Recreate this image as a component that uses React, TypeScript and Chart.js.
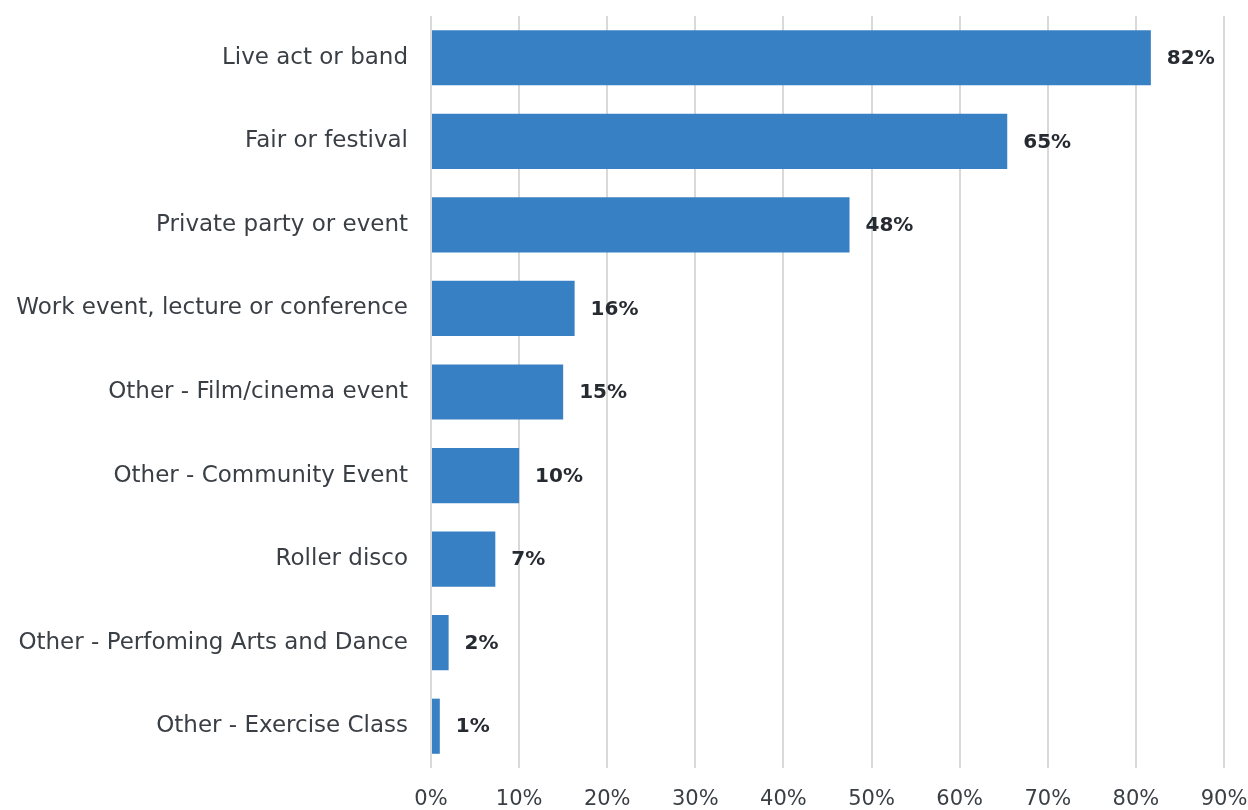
import React, { useEffect, useRef } from "react";
import { Chart, registerables } from "chart.js";

Chart.register(...registerables);

const categories = [
  "Live act or band",
  "Fair or festival",
  "Private party or event",
  "Work event, lecture or conference",
  "Other - Film/cinema event",
  "Other - Community Event",
  "Roller disco",
  "Other - Perfoming Arts and Dance",
  "Other - Exercise Class",
];
const values = [81.7, 65.4, 47.5, 16.3, 15.0, 10.0, 7.3, 2.0, 1.0];
const valueLabels = ["82%", "65%", "48%", "16%", "15%", "10%", "7%", "2%", "1%"];

const FONT = "'DejaVu Sans', sans-serif";

const labelPlugin = {
  id: "barValueLabels",
  afterDatasetsDraw(chart: any) {
    const ctx = chart.ctx;
    const meta = chart.getDatasetMeta(0);
    ctx.save();
    ctx.font = `bold 20px ${FONT}`;
    ctx.fillStyle = "#262a31";
    ctx.textAlign = "left";
    ctx.textBaseline = "middle";
    meta.data.forEach((bar: any, i: number) => {
      ctx.fillText(valueLabels[i], bar.x + 16, bar.y + 1);
    });
    ctx.restore();
  },
};

export default function App() {
  const ref = useRef<HTMLCanvasElement>(null);
  useEffect(() => {
    document.body.style.margin = "0";
    const chart = new Chart(ref.current!, {
      type: "bar",
      data: {
        labels: categories,
        datasets: [
          {
            data: values,
            backgroundColor: "#3880c4",
            barPercentage: 0.66,
            categoryPercentage: 1,
          },
        ],
      },
      options: {
        indexAxis: "y",
        animation: false,
        responsive: false,
        layout: { padding: { top: 16, right: 24, left: 0, bottom: 0 } },
        plugins: { legend: { display: false }, tooltip: { enabled: false } },
        scales: {
          x: {
            min: 0,
            max: 90,
            ticks: {
              stepSize: 10,
              callback: (v: any) => v + "%",
              color: "#3a3f46",
              font: { family: FONT, size: 21 },
              padding: 19,
            },
            grid: { color: "#d9d9d9", lineWidth: 2, drawTicks: false },
            border: { display: false },
            afterFit: (s: any) => {
              s.height = 42;
              s.paddingLeft = 0;
              s.paddingRight = 0;
            },
          },
          y: {
            ticks: {
              color: "#3a3f46",
              font: { family: FONT, size: 23 },
              padding: 15,
            },
            grid: { display: false },
            border: { display: false },
            afterFit: (s: any) => {
              s.width = 431;
              s.paddingTop = 0;
              s.paddingBottom = 0;
            },
          },
        },
      },
      plugins: [labelPlugin],
    });
    return () => chart.destroy();
  }, []);
  return (
    <div style={{ width: 1248, height: 810 }}>
      <canvas ref={ref} width={1248} height={810} />
    </div>
  );
}
